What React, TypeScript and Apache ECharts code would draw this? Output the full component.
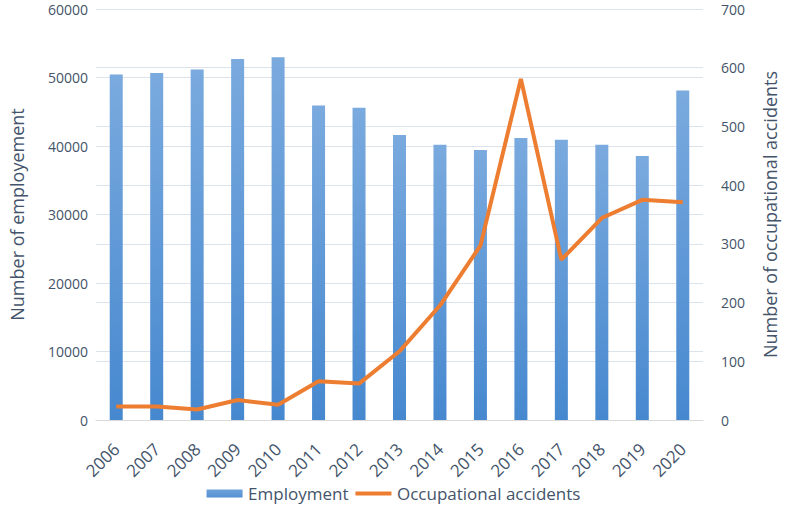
import React, { useEffect, useRef } from "react";
import * as echarts from "echarts";

const years = ["2006","2007","2008","2009","2010","2011","2012","2013","2014","2015","2016","2017","2018","2019","2020"];
const employment = [50450, 50650, 51150, 52700, 52950, 45900, 45600, 41600, 40200, 39400, 41150, 40900, 40200, 38550, 48100];
const accidents = [23, 23, 18, 34, 26, 66, 62, 117, 195, 297, 581, 273, 344, 375, 371];

export default function App() {
  const ref = useRef<HTMLDivElement>(null);
  useEffect(() => {
    const chart = echarts.init(ref.current!, null, { renderer: "svg" });
    const txt = "#44546a";
    const font = "Open Sans";
    const barColor = new echarts.graphic.LinearGradient(0, 0, 0, 1, [
      { offset: 0, color: "#7aaade" },
      { offset: 1, color: "#4688cf" },
    ]);
    chart.setOption({
      animation: false,
      textStyle: { fontFamily: font },
      grid: { left: 82, right: 75, top: 9, bottom: 93 },
      legend: {
        bottom: 6,
        left: "center",
        itemGap: 7,
        itemWidth: 37,
        itemHeight: 16,
        textStyle: { color: txt, fontSize: 17 },
        data: [
          { name: "Employment", icon: "path://M0,0 L0.01,0 M0,4 L36,4 L36,12 L0,12 Z M36,16 L36.01,16" },
          { name: "Occupational accidents", icon: "path://M0,0 L0.01,0 M0,6 L36,6 L36,10 L0,10 Z M36,16 L36.01,16", itemStyle: { color: "#ed7d31" } },
        ],
      },
      xAxis: {
        type: "category",
        data: years,
        axisLine: { lineStyle: { color: "#d9d9d9" } },
        axisTick: { show: false },
        axisLabel: { color: txt, fontSize: 17, rotate: 45, margin: 26 },
      },
      yAxis: [
        {
          type: "value",
          min: 0,
          max: 60000,
          interval: 10000,
          name: "Number of employement",
          nameLocation: "middle",
          nameGap: 70,
          nameTextStyle: { color: txt, fontSize: 18 },
          axisLabel: { color: txt, fontSize: 14, formatter: (v: number) => String(v) },
          splitLine: { lineStyle: { color: "#dde3ec" } },
          axisLine: { show: false },
          axisTick: { show: false },
        },
        {
          type: "value",
          min: 0,
          max: 700,
          interval: 100,
          name: "Number of occupational accidents",
          nameLocation: "middle",
          nameGap: 58,
          nameRotate: 90,
          nameTextStyle: { color: txt, fontSize: 18 },
          axisLabel: { color: txt, fontSize: 14, margin: 18, formatter: (v: number) => String(v) },
          splitLine: { lineStyle: { color: "#dde3ec" } },
          axisLine: { show: false },
          axisTick: { show: false },
        },
      ],
      series: [
        {
          name: "Employment",
          type: "bar",
          data: employment,
          barWidth: 13,
          itemStyle: { color: barColor },
        },
        {
          name: "Occupational accidents",
          type: "line",
          yAxisIndex: 1,
          data: accidents,
          symbol: "none",
          lineStyle: { color: "#ed7d31", width: 4 },
          itemStyle: { color: "#ed7d31" },
        },
      ],
    });
    return () => chart.dispose();
  }, []);
  return <div ref={ref} style={{ position: "absolute", left: 0, top: 0, width: 787, height: 513 }} />;
}
